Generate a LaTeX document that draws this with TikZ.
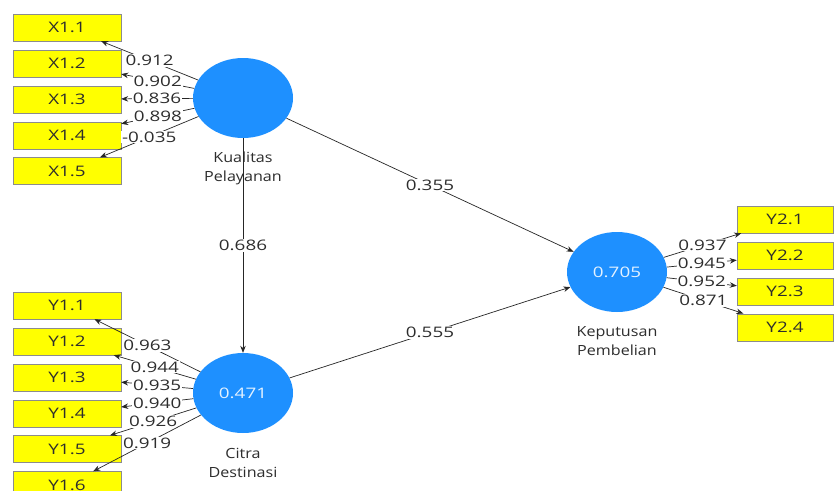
\documentclass[tikz,border=0pt]{standalone}
\usepackage{fontspec}
\setmainfont{Open Sans}[FakeStretch=1.15]
\newfontfamily\numfont{Open Sans}[FakeStretch=1.3]
\usetikzlibrary{positioning,shapes.geometric,arrows.meta}
\definecolor{plsblue}{RGB}{30,144,255}
\definecolor{plsyellow}{RGB}{255,255,0}
\definecolor{plsgrey}{RGB}{45,45,45}
\tikzset{
	indicator/.style={draw=black!45, fill=plsyellow, minimum width=108pt, minimum height=27pt, inner sep=0pt, text=plsgrey, font=\numfont\fontsize{14.5}{17}\selectfont},
	construct/.style={ellipse, fill=plsblue, minimum width=100pt, minimum height=80pt, inner sep=0pt, text=white!88!plsblue, font=\numfont\fontsize{14.5}{17}\selectfont},
	caption/.style={align=center, text=plsgrey, font=\fontsize{14}{19}\selectfont},
	loading/.style={fill=white, inner sep=0.8pt, text=plsgrey, font=\numfont\fontsize{14.5}{17}\selectfont},
	link/.style={draw=black!85, line width=0.7pt, -{Stealth[length=7pt,width=5.5pt]}}
}
\begin{document}
\begin{tikzpicture}[x=1pt,y=-1pt,font=\fontsize{14}{17}\selectfont]
	\clip (0,0) rectangle (835,490);
	\fill[white] (0,0) rectangle (835,490);
	% latent variables
	\node(kp) [construct] at (243,98) {};
	\node(cd) [construct] at (243,393) {0.471};
	\node(kpb) [construct] at (617,272) {0.705};
	\node(kpname) [caption] at (243,168) {Kualitas\\Pelayanan};
	\node(cdname) [caption] at (243,463) {Citra\\Destinasi};
	\node(kpbname) [caption] at (617,341.5) {Keputusan\\Pembelian};
	% indicators of Kualitas Pelayanan
	\begin{scope}[node distance=8.5pt]
		\node(x11) [indicator] at (67,27.5) {X1.1};
		\node(x12) [indicator,below=of x11] {X1.2};
		\node(x13) [indicator,below=of x12] {X1.3};
		\node(x14) [indicator,below=of x13] {X1.4};
		\node(x15) [indicator,below=of x14] {X1.5};
		% indicators of Citra Destinasi
		\node(y11) [indicator] at (67,305.5) {Y1.1};
		\node(y12) [indicator,below=of y11] {Y1.2};
		\node(y13) [indicator,below=of y12] {Y1.3};
		\node(y14) [indicator,below=of y13] {Y1.4};
		\node(y15) [indicator,below=of y14] {Y1.5};
		\node(y16) [indicator,below=of y15] {Y1.6};
		% indicators of Keputusan Pembelian
		\node(y21) [indicator,minimum width=96pt] at (785,219.5) {Y2.1};
		\node(y22) [indicator,minimum width=96pt,below=of y21] {Y2.2};
		\node(y23) [indicator,minimum width=96pt,below=of y22] {Y2.3};
		\node(y24) [indicator,minimum width=96pt,below=of y23] {Y2.4};
	\end{scope}
	% outer loadings
	\path
		(kp) edge[link] node[loading] {0.912} (x11)
		(kp) edge[link] node[loading] {0.902} (x12)
		(kp) edge[link] node[loading] {0.836} (x13)
		(kp) edge[link] node[loading] {0.898} (x14)
		(kp) edge[link] node[loading] {-0.035} (x15);
	\path
		(cd) edge[link] node[loading] {0.963} (y11)
		(cd) edge[link] node[loading] {0.944} (y12)
		(cd) edge[link] node[loading] {0.935} (y13)
		(cd) edge[link] node[loading] {0.940} (y14)
		(cd) edge[link] node[loading] {0.926} (y15)
		(cd) edge[link] node[loading] {0.919} (y16);
	\path
		(kpb) edge[link] node[loading] {0.937} (y21)
		(kpb) edge[link] node[loading] {0.945} (y22)
		(kpb) edge[link] node[loading] {0.952} (y23)
		(kpb) edge[link] node[loading] {0.871} (y24);
	% path coefficients
	\path
		(kp) edge[link] node[loading] {0.686} (cd)
		(kp) edge[link] node[loading] {0.355} (kpb)
		(cd) edge[link] node[loading] {0.555} (kpb);
\end{tikzpicture}
\end{document}
